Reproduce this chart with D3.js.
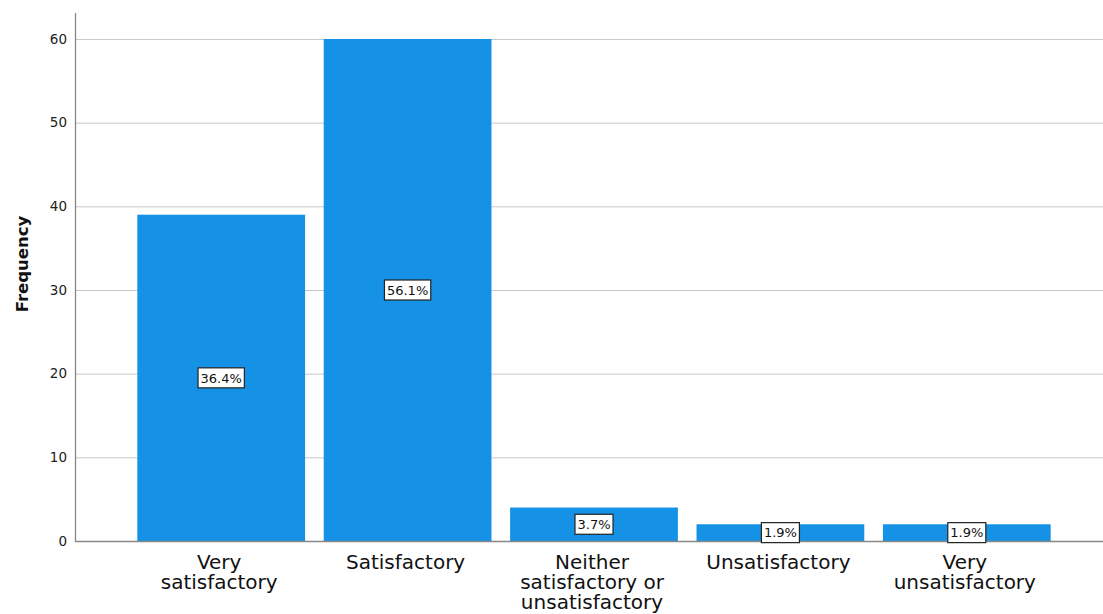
<!DOCTYPE html>
<html><head><meta charset="utf-8">
<script src="https://cdn.jsdelivr.net/npm/d3@7"></script>
<style>body{margin:0;background:#fff}</style>
</head><body>
<svg id="c" width="1103" height="614"></svg>
<script>
const categories = ["Very satisfactory","Satisfactory","Neither satisfactory or unsatisfactory","Unsatisfactory","Very unsatisfactory"];
const categoryLines = [["Very","satisfactory"],["Satisfactory"],["Neither","satisfactory or","unsatisfactory"],["Unsatisfactory"],["Very","unsatisfactory"]];
const frequencies = [39, 60, 4, 2, 2];
const percentLabels = ["36.4%","56.1%","3.7%","1.9%","1.9%"];
const yTicks = [0,10,20,30,40,50,60];

const svg = d3.select("#c");
const x0 = 75, x1 = 1103, yTop = 13, yBottom = 541;
const x = d3.scaleBand().domain(categories).range([128, 1060]).paddingInner(0.1).paddingOuter(0.05);
const y = d3.scaleLinear().domain([0, 60]).range([yBottom, 39]);

// gridlines
svg.append("g").selectAll("line").data(yTicks.filter(d=>d>0)).join("line")
  .attr("x1", x0).attr("x2", x1).attr("y1", d=>y(d)+0.5).attr("y2", d=>y(d)+0.5)
  .attr("stroke", "#c8c8c8").attr("stroke-width", 1);

// bars
svg.append("g").selectAll("rect").data(frequencies).join("rect")
  .attr("x", (d,i)=>x(categories[i])).attr("width", x.bandwidth())
  .attr("y", d=>y(d)).attr("height", d=>yBottom - y(d))
  .attr("fill", "#1591e6");

// axes lines
svg.append("line").attr("x1", x0+0.5).attr("x2", x0+0.5).attr("y1", yTop).attr("y2", yBottom+1)
  .attr("stroke", "#888").attr("stroke-width", 1.3);
svg.append("line").attr("x1", x0).attr("x2", x1).attr("y1", yBottom+0.5).attr("y2", yBottom+0.5)
  .attr("stroke", "#888").attr("stroke-width", 1.3);

// y tick labels
const yAxis = d3.axisLeft(y).tickValues(yTicks).tickSize(0).tickPadding(8);
const ga = svg.append("g").attr("transform", `translate(${x0},0)`).call(yAxis);
ga.select(".domain").remove();
ga.selectAll("text").attr("font-family","DejaVu Sans, sans-serif").attr("font-size", 13.5).attr("fill","#222");

// y title
svg.append("text").attr("transform", `translate(28,264) rotate(-90)`)
  .attr("text-anchor","middle").attr("font-family","DejaVu Sans, sans-serif")
  .attr("font-weight","bold").attr("font-size",16.5).attr("fill","#111").text("Frequency");

// x labels
const xl = svg.append("g");
categories.forEach((c,i)=>{
  const t = xl.append("text").attr("text-anchor","middle")
    .attr("font-family","DejaVu Sans, sans-serif").attr("font-size",20).attr("fill","#111");
  categoryLines[i].forEach((ln,j)=>{
    t.append("tspan").attr("x", x(c)+x.bandwidth()/2 - 2).attr("y", 569 + j*20).text(ln);
  });
});

// percent labels
const pl = svg.append("g");
frequencies.forEach((v,i)=>{
  const cx = x(categories[i]) + x.bandwidth()/2;
  const cy = (y(v) + yBottom)/2;
  const g = pl.append("g");
  const t = g.append("text").attr("x", cx).attr("y", cy).attr("dy","0.36em")
    .attr("text-anchor","middle").attr("font-family","DejaVu Sans, sans-serif")
    .attr("font-size",13).attr("fill","#111").text(percentLabels[i]);
  const bb = t.node().getBBox();
  g.insert("rect","text").attr("x", bb.x-2.5).attr("y", cy-10).attr("width", bb.width+5).attr("height", 20)
    .attr("fill","#fff").attr("stroke","#222").attr("stroke-width",1.2);
});
</script>
</body></html>
